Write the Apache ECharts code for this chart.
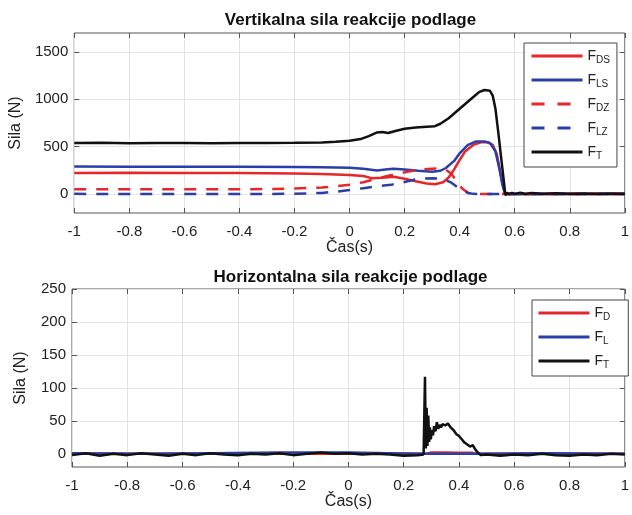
<!DOCTYPE html>
<html>
<head>
<meta charset="utf-8">
<script src="https://cdn.jsdelivr.net/npm/echarts@6/dist/echarts.min.js"></script>
<style>
  html, body { margin: 0; padding: 0; background: #fff; }
  #chart { width: 632px; height: 515px; }
</style>
</head>
<body>
<div id="chart"></div>
<script>
// vertikalna sila, [t, N]
const topT = [[-1,538],[-0.9,541],[-0.8,537],[-0.7,540],[-0.6,539],[-0.5,536],[-0.4,540],[-0.3,538],[-0.2,541],[-0.1,545],
  [-0.05,551],[0,562],[0.04,580],[0.07,612],[0.1,650],[0.12,656],[0.14,644],[0.17,668],[0.2,690],[0.24,702],[0.28,711],
  [0.31,716],[0.33,742],[0.36,800],[0.4,900],[0.44,1000],[0.47,1075],[0.49,1098],[0.51,1090],[0.52,1040],[0.53,900],
  [0.54,660],[0.55,400],[0.56,150],[0.566,-12],[0.572,14],[0.58,-2],[0.59,12],[0.6,2],[0.62,13],[0.64,0],[0.66,10],
  [0.7,3],[0.75,8],[0.8,3],[0.85,7],[0.9,2],[0.95,6],[1,4]];
const topLS = [[-1,290],[-0.8,288],[-0.6,289],[-0.4,287],[-0.2,285],[-0.1,283],[0,278],[0.05,268],[0.1,248],[0.13,258],
  [0.16,268],[0.2,258],[0.25,245],[0.3,236],[0.33,246],[0.35,275],[0.38,350],[0.4,430],[0.43,520],[0.46,556],[0.49,555],
  [0.51,540],[0.53,450],[0.545,260],[0.555,100],[0.565,0],[1,0]];
const topDS = [[-1,222],[-0.8,224],[-0.6,223],[-0.4,221],[-0.2,218],[-0.1,212],[0,202],[0.05,190],[0.08,168],[0.12,172],
  [0.16,182],[0.2,162],[0.24,135],[0.28,112],[0.31,104],[0.34,125],[0.36,175],[0.38,260],[0.4,360],[0.42,450],[0.45,520],
  [0.48,548],[0.5,548],[0.52,520],[0.535,420],[0.545,270],[0.555,120],[0.565,0],[1,0]];
const topDZ = [[-1,52],[-0.8,50],[-0.6,52],[-0.4,51],[-0.3,53],[-0.2,58],[-0.1,70],[-0.05,82],[0,98],[0.05,125],[0.1,165],
  [0.15,200],[0.2,230],[0.25,255],[0.3,268],[0.33,270],[0.35,255],[0.37,215],[0.39,130],[0.41,55],[0.43,15],[0.45,2],
  [0.5,0],[1,0]];
const topLZ = [[-1,2],[-0.8,0],[-0.6,1],[-0.4,0],[-0.2,3],[-0.1,12],[-0.05,25],[0,42],[0.05,62],[0.1,82],[0.15,97],
  [0.2,128],[0.25,160],[0.3,168],[0.34,160],[0.37,120],[0.4,55],[0.43,12],[0.45,2],[0.5,0],[1,0]];

// horizontalna sila, [t, N]
const botD = [[-1,0],[0.28,0],[0.29,1],[0.3,2],[0.35,2],[0.4,1.5],[0.45,1.5],[0.46,0],[1,0]];
const botL = [[-1,1],[-0.75,0],[-0.5,1],[-0.25,2],[0,2],[0.15,1],[0.27,0],[0.5,0],[0.7,1],[1,0]];
const botT = [[-1,-2],[-0.95,1],[-0.9,-3],[-0.85,0],[-0.8,-2],[-0.75,1],[-0.7,-1],[-0.65,-3],[-0.6,0],[-0.55,-2],
  [-0.5,1],[-0.45,-1],[-0.4,-2],[-0.35,0],[-0.3,-1],[-0.25,1],[-0.2,-2],[-0.15,0],[-0.1,2],[-0.05,0],[0,1],[0.05,-1],
  [0.1,0],[0.15,-1],[0.2,-3],[0.25,-2],[0.272,-1],[0.275,0],[0.277,117],[0.28,8],[0.283,70],[0.286,12],[0.289,58],
  [0.292,18],[0.295,40],[0.298,22],[0.302,36],[0.306,28],[0.31,42],[0.315,34],[0.32,48],[0.325,38],[0.33,44],[0.335,40],
  [0.34,45],[0.35,43],[0.36,46],[0.37,40],[0.38,36],[0.39,30],[0.4,27],[0.41,22],[0.42,17],[0.43,14],[0.44,11],[0.45,13],
  [0.455,10],[0.46,6],[0.47,1],[0.48,-2],[0.5,-1],[0.55,-3],[0.6,-1],[0.65,-2],[0.7,0],[0.75,-2],[0.8,-3],[0.85,-1],
  [0.9,-2],[0.95,0],[1,-1]];

const topYTicks = [0, 500, 1000, 1500];
const botYTicks = [0, 50, 100, 150, 200, 250];
const subs = { DS: 'DS', LS: 'LS', DZ: 'DZ', LZ: 'LZ', T: 'T', D: 'D', L: 'L', T2: 'T' };

const font = 'Liberation Sans, Arial, Helvetica, sans-serif';
const boxColor = '#555';
const red = '#e5262b', blue = '#2a3fa6', black = '#111';

const chart = echarts.init(document.getElementById('chart'));

function xAx(gi, pos) {
  const main = pos === 'bottom';
  return {
    type: 'value', gridIndex: gi, position: pos, min: -1, max: 1, interval: 0.2,
    axisLine: { show: false, onZero: false },
    axisTick: { inside: true, length: 5, lineStyle: { color: boxColor } },
    axisLabel: { show: main, color: '#222', fontSize: 15, margin: 11, fontFamily: font },
    splitLine: { show: main, lineStyle: { color: '#e3e3e3' } },
    name: main ? 'Čas(s)' : '', nameLocation: 'middle', nameGap: 27,
    nameTextStyle: { color: '#222', fontSize: 16, fontFamily: font }
  };
}
function yAx(gi, pos, min, max, ticks) {
  const main = pos === 'left';
  return {
    type: 'value', gridIndex: gi, position: pos, min: min, max: max,
    axisLine: { show: false, onZero: false },
    axisTick: { inside: true, length: 5, customValues: ticks, lineStyle: { color: boxColor } },
    axisLabel: { show: main, customValues: ticks, formatter: v => String(v), color: '#222', fontSize: 15, margin: 6, fontFamily: font },
    splitLine: { show: main, lineStyle: { color: '#e3e3e3' } },
    name: main ? 'Sila (N)' : '', nameLocation: 'middle', nameGap: 43,
    nameTextStyle: { color: '#222', fontSize: 16, fontFamily: font }
  };
}
function line(name, data, xi, yi, color, dashed) {
  return {
    name: name, type: 'line', data: data, xAxisIndex: xi, yAxisIndex: yi,
    symbol: 'none', showSymbol: false, animation: false,
    itemStyle: { color: color },
    lineStyle: { color: color, width: 2.5, type: dashed ? [12, 10] : 'solid' }
  };
}
function legend(names, left, top, padding) {
  return {
    orient: 'vertical', left: left, top: top, padding: padding,
    itemWidth: 51, itemHeight: 14, itemGap: 8,
    backgroundColor: '#fff', borderColor: '#444', borderWidth: 1, borderRadius: 0,
    selectedMode: false,
    itemStyle: { opacity: 0 },
    lineStyle: { width: 3 },
    data: names.map(n => ({ name: n, lineStyle: (n === 'DZ' || n === 'LZ') ? { type: [13, 13], width: 3 } : { width: 3 } })),
    formatter: n => '{f|F}{s|' + subs[n] + '}',
    textStyle: {
      rich: {
        f: { fontSize: 14, color: '#222', fontFamily: font },
        s: { fontSize: 10, color: '#222', fontFamily: font, padding: [8, 0, 0, 0] }
      }
    }
  };
}

chart.setOption({
  animation: false,
  backgroundColor: '#fff',
  grid: [
    { left: 72, right: 3, top: 33, height: 180, show: true, borderColor: boxColor, borderWidth: 1, backgroundColor: '#fff' },
    { left: 72, right: 3, top: 289, height: 178, show: true, borderColor: boxColor, borderWidth: 1, backgroundColor: '#fff' }
  ],
  graphic: [
    { type: 'text', x: 350.5, y: 20, style: { text: 'Vertikalna sila reakcije podlage', align: 'center', verticalAlign: 'middle',
      font: 'bold 17px ' + font, fill: '#111' } },
    { type: 'text', x: 350.5, y: 277, style: { text: 'Horizontalna sila reakcije podlage', align: 'center', verticalAlign: 'middle',
      font: 'bold 17px ' + font, fill: '#111' } }
  ],
  xAxis: [xAx(0, 'bottom'), xAx(1, 'bottom'), xAx(0, 'top'), xAx(1, 'top')],
  yAxis: [
    yAx(0, 'left', -200, 1700, topYTicks), yAx(1, 'left', -20, 250, botYTicks),
    yAx(0, 'right', -200, 1700, topYTicks), yAx(1, 'right', -20, 250, botYTicks)
  ],
  legend: [
    legend(['DS', 'LS', 'DZ', 'LZ', 'T'], 524, 43, [6, 7, 6, 6]),
    legend(['D', 'L', 'T2'], 532, 300, [6, 18, 6, 5])
  ],
  series: [
    line('DS', topDS, 0, 0, red, false),
    line('LS', topLS, 0, 0, blue, false),
    line('DZ', topDZ, 0, 0, red, true),
    line('LZ', topLZ, 0, 0, blue, true),
    line('T', topT, 0, 0, black, false),
    line('D', botD, 1, 1, red, false),
    line('L', botL, 1, 1, blue, false),
    line('T2', botT, 1, 1, black, false)
  ]
});
</script>
</body>
</html>
